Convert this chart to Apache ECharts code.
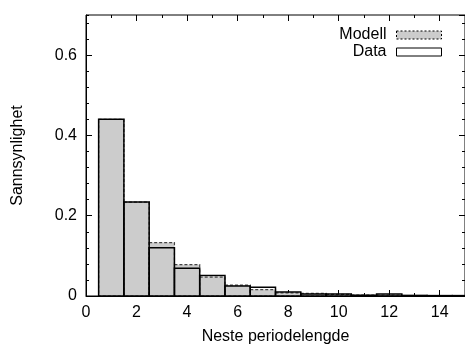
<!DOCTYPE html>
<html>
<head>
<meta charset="utf-8">
<script src="https://cdn.jsdelivr.net/npm/echarts@6/dist/echarts.min.js"></script>
<style>
html, body { margin: 0; padding: 0; background: #fff; }
#chart { width: 465px; height: 350px; }
</style>
</head>
<body>
<div id="chart"></div>
<script>
// periodelengder og sannsynligheter
var lengths = [1, 2, 3, 4, 5, 6, 7, 8, 9, 10, 11, 12, 13, 14, 15];
var modell = [0.440, 0.234, 0.133, 0.078, 0.047, 0.027, 0.016, 0.008, 0.0065, 0.004, 0.002, 0.002, 0.0012, 0.001, 0.001];
var data = [0.440, 0.234, 0.120, 0.069, 0.051, 0.025, 0.022, 0.010, 0.005, 0.005, 0.002, 0.005, 0.0015, 0.001, 0.001];
var xTicks = [0, 2, 4, 6, 8, 10, 12, 14];
var yTicks = [0, 0.2, 0.4, 0.6];

var font = 'Liberation Sans, Arial, sans-serif';

function pairs(vals) {
	return lengths.map(function (x, i) { return [x, vals[i]]; });
}

function makeRender(style) {
	return function (params, api) {
		var x = api.value(0), y = api.value(1);
		var p0 = api.coord([x - 0.5, y]);
		var p1 = api.coord([x + 0.5, 0]);
		return {
			type: 'rect',
			shape: { x: p0[0], y: p0[1], width: p1[0] - p0[0], height: p1[1] - p0[1] },
			style: style
		};
	};
}

// akse kun for tikkmerker (ingen tekst)
function tickAxis(pos, max, interval, len) {
	return {
		type: 'value',
		position: pos,
		min: 0,
		max: max,
		interval: interval,
		axisLine: { show: false, onZero: false },
		axisTick: { show: true, inside: true, length: len, lineStyle: { color: '#000' } },
		axisLabel: { show: false },
		splitLine: { show: false }
	};
}

var myChart = echarts.init(document.getElementById('chart'));
var option = {
	animation: false,
	grid: {
		left: 86,
		right: -3,
		top: 15,
		bottom: 52,
		show: true,
		borderColor: '#000',
		borderWidth: 1
	},
	legend: {
		right: 18,
		top: 22,
		orient: 'vertical',
		align: 'right',
		itemWidth: 45,
		itemHeight: 8,
		itemGap: 1,
		textStyle: { fontFamily: font, fontSize: 16, lineHeight: 14, color: '#000', padding: [0, 5, 0, 0] },
		data: [
			{ name: 'Modell', icon: 'rect', itemStyle: { color: '#cccccc', borderColor: '#000', borderWidth: 1, borderType: [2, 2] } },
			{ name: 'Data', icon: 'rect', itemStyle: { color: '#fff', borderColor: '#000', borderWidth: 1 } }
		]
	},
	xAxis: [{
		type: 'value',
		min: 0,
		max: 15,
		interval: 2,
		name: 'Neste periodelengde',
		nameLocation: 'middle',
		nameGap: 33,
		nameTextStyle: { fontFamily: font, fontSize: 16, color: '#000' },
		axisLine: { onZero: false, lineStyle: { color: '#000' } },
		axisTick: { inside: true, length: 6, lineStyle: { color: '#000' } },
		axisLabel: {
			fontFamily: font, fontSize: 16, color: '#000', margin: 9,
			showMaxLabel: false,
			formatter: function (v) { return xTicks.indexOf(v) >= 0 ? String(v) : ''; }
		},
		splitLine: { show: false }
	},
		tickAxis('bottom', 15, 1, 3),
		tickAxis('top', 15, 2, 6),
		tickAxis('top', 15, 1, 3)
	],
	yAxis: [{
		type: 'value',
		min: 0,
		max: 0.7,
		interval: 0.2,
		name: 'Sannsynlighet',
		nameLocation: 'middle',
		nameGap: 60,
		nameTextStyle: { fontFamily: font, fontSize: 16, color: '#000' },
		axisLine: { show: true, onZero: false, lineStyle: { color: '#000' } },
		axisTick: { show: true, inside: true, length: 6, lineStyle: { color: '#000' } },
		axisLabel: {
			fontFamily: font, fontSize: 16, color: '#000', margin: 9,
			showMaxLabel: false,
			formatter: function (v) {
				for (var i = 0; i < yTicks.length; i++) {
					if (Math.abs(yTicks[i] - v) < 1e-9) return String(yTicks[i]);
				}
				return '';
			}
		},
		splitLine: { show: false }
	},
		tickAxis('left', 0.7, 0.04, 3),
		tickAxis('right', 0.7, 0.2, 6),
		tickAxis('right', 0.7, 0.04, 3)
	],
	series: [{
		name: 'Modell',
		type: 'custom',
		clip: true,
		xAxisIndex: 0,
		yAxisIndex: 0,
		itemStyle: { color: '#cccccc' },
		renderItem: makeRender({ fill: '#cccccc', stroke: '#444', lineWidth: 1.2, lineDash: [3, 2] }),
		encode: { x: 0, y: 1 },
		data: pairs(modell)
	}, {
		name: 'Data',
		type: 'custom',
		clip: true,
		xAxisIndex: 0,
		yAxisIndex: 0,
		itemStyle: { color: '#fff' },
		renderItem: makeRender({ fill: 'none', stroke: '#000', lineWidth: 1.5 }),
		encode: { x: 0, y: 1 },
		data: pairs(data)
	}]
};
myChart.setOption(option, true);
</script>
</body>
</html>
